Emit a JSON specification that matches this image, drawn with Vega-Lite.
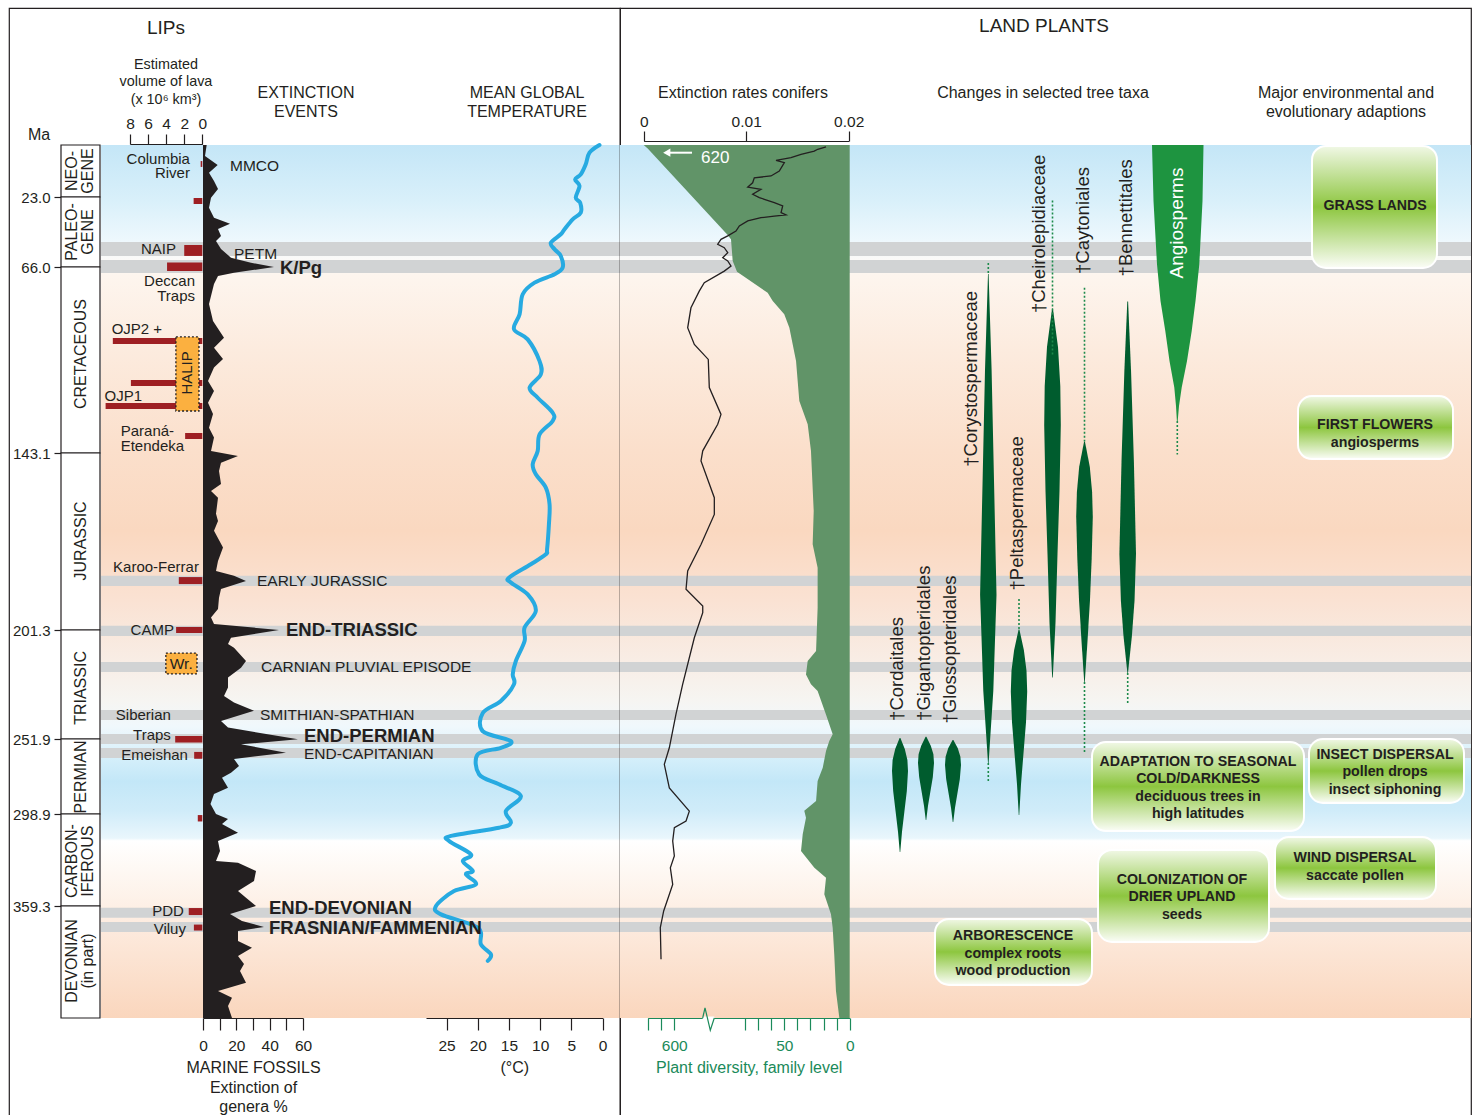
{
"$schema":"https://vega.github.io/schema/vega-lite/v6.json",
"padding":{"left":8,"top":7,"right":0,"bottom":0},
"background":"#ffffff",
"spacing":0,
"bounds":"flush",
"config":{
 "font":"Liberation Sans",
 "view":{"stroke":"#231f20","strokeWidth":1.2},
 "axis":{"domainColor":"#231f20","tickColor":"#231f20","labelColor":"#231f20","titleColor":"#231f20","labelFontSize":15.5,"labelFont":"Liberation Sans","titleFont":"Liberation Sans","titleFontWeight":"normal","grid":false,"domainWidth":1.2,"tickWidth":1.2,"labelFlush":false,"labelOverlap":false},
 "text":{"color":"#231f20"}
},
"datasets":{
 "span":[{"Ma":0,"Ma2":425}],
 "bands":[{"event":"PETM","Ma":50.6,"Ma2":59.2},{"event":"K/Pg","Ma":61.7,"Ma2":68.5},{"event":"Early Jurassic","Ma":183.5,"Ma2":186.8},{"event":"End-Triassic","Ma":199.9,"Ma2":204.1},{"event":"Carnian","Ma":216.2,"Ma2":220.8},{"event":"Smithian-Spathian","Ma":238.4,"Ma2":243.1},{"event":"End-Permian","Ma":249.6,"Ma2":255.0},{"event":"End-Capitanian","Ma":257.5,"Ma2":263.8},{"event":"End-Devonian","Ma":360.3,"Ma2":366.2},{"event":"Frasnian/Famennian","Ma":368.7,"Ma2":374.6}],
 "periods":[{"name":"NEO-\nGENE","lines":2,"Ma":0,"Ma2":23,"mid":11.5},{"name":"PALEO-\nGENE","lines":2,"Ma":23,"Ma2":66,"mid":44.5},{"name":"CRETACEOUS","lines":1,"Ma":66,"Ma2":143.1,"mid":102.1},{"name":"JURASSIC","lines":1,"Ma":143.1,"Ma2":201.3,"mid":172.0},{"name":"TRIASSIC","lines":1,"Ma":201.3,"Ma2":251.9,"mid":228.2},{"name":"PERMIAN","lines":1,"Ma":251.9,"Ma2":298.9,"mid":275.7},{"name":"CARBON-\nIFEROUS","lines":2,"Ma":298.9,"Ma2":359.3,"mid":329.8},{"name":"DEVONIAN\n(in part)","lines":2,"Ma":359.3,"Ma2":425,"mid":391.6}],
 "lips":[{"lip":"Columbia River","vol":0.18,"Ma":7.1,"Ma2":9.7},{"lip":"unlabelled Paleogene","vol":0.96,"Ma":23.6,"Ma2":27.3},{"lip":"NAIP","vol":2.0,"Ma":52.5,"Ma2":59.2},{"lip":"Deccan Traps","vol":3.9,"Ma":63.3,"Ma2":67.7},{"lip":"OJP2 +","vol":9.9,"Ma":95.4,"Ma2":97.9},{"lip":"HALIP","vol":7.9,"Ma":112.8,"Ma2":115.3},{"lip":"OJP1","vol":10.7,"Ma":122.4,"Ma2":124.9},{"lip":"Paraná-Etendeka","vol":1.9,"Ma":134.8,"Ma2":137.3},{"lip":"Karoo-Ferrar","vol":2.6,"Ma":183.9,"Ma2":186.2},{"lip":"CAMP","vol":2.9,"Ma":200.3,"Ma2":202.7},{"lip":"Siberian Traps","vol":3.0,"Ma":250.5,"Ma2":254.1},{"lip":"Emeishan","vol":0.9,"Ma":260.0,"Ma2":264.3},{"lip":"unlabelled Carboniferous","vol":0.5,"Ma":299.6,"Ma2":303.8},{"lip":"PDD","vol":1.5,"Ma":360.5,"Ma2":364.6},{"lip":"Viluy","vol":0.93,"Ma":370.2,"Ma2":373.7}],
 "lipboxes":[{"name":"HALIP","vol":2.92,"vol2":0.37,"Ma":95.0,"Ma2":125.7,"tvol":1.65,"tMa":109.9},{"name":"Wr.","vol":4.03,"vol2":0.59,"Ma":212.0,"Ma2":221.7,"tvol":2.33,"tMa":217.1}],
 "liplabels_r":[{"label":"Columbia","vol":1.37,"Ma":6.0},{"label":"River","vol":1.37,"Ma":12.6},{"label":"NAIP","vol":2.92,"Ma":55.0},{"label":"Deccan","vol":0.81,"Ma":71.8},{"label":"Traps","vol":0.81,"Ma":78.0},{"label":"Karoo-Ferrar","vol":0.37,"Ma":180.6},{"label":"CAMP","vol":3.14,"Ma":201.3},{"label":"Siberian","vol":3.48,"Ma":240.8},{"label":"Traps","vol":3.48,"Ma":250.0},{"label":"Emeishan","vol":1.59,"Ma":261.9},{"label":"PDD","vol":2.03,"Ma":362.2},{"label":"Viluy","vol":1.81,"Ma":372.8}],
 "liplabels_l":[{"label":"OJP2 +","vol":10.03,"Ma":91.7},{"label":"OJP1","vol":10.81,"Ma":119.5},{"label":"Paraná-","vol":9.03,"Ma":133.8},{"label":"Etendeka","vol":9.03,"Ma":140.0}],
 "events":[{"label":"MMCO","pct":16.2,"Ma":9.3},{"label":"PETM","pct":18.6,"Ma":58.0},{"label":"EARLY JURASSIC","pct":32.4,"Ma":185.2},{"label":"CARNIAN PLUVIAL EPISODE","pct":34.8,"Ma":218.5},{"label":"SMITHIAN-SPATHIAN","pct":34.2,"Ma":240.8},{"label":"END-CAPITANIAN","pct":60.6,"Ma":261.3}],
 "bigevents":[{"label":"K/Pg","pct":46.2,"Ma":66.4},{"label":"END-TRIASSIC","pct":49.8,"Ma":201.3},{"label":"END-PERMIAN","pct":60.6,"Ma":250.5},{"label":"END-DEVONIAN","pct":39.6,"Ma":360.5},{"label":"FRASNIAN/FAMMENIAN","pct":39.6,"Ma":372.0}],
 "fossils":[{"Ma":0,"pct":2.2},{"Ma":4.9,"pct":1.2},{"Ma":8.8,"pct":8.8},{"Ma":12.3,"pct":3.6},{"Ma":15.9,"pct":6.6},{"Ma":19.5,"pct":9.0},{"Ma":23.4,"pct":4.8},{"Ma":29.6,"pct":3.6},{"Ma":35.7,"pct":6.6},{"Ma":39.4,"pct":16.2},{"Ma":42.7,"pct":9.0},{"Ma":47.0,"pct":10.8},{"Ma":50.0,"pct":7.8},{"Ma":54.9,"pct":10.8},{"Ma":60.3,"pct":16.8},{"Ma":63.4,"pct":28.8},{"Ma":66.0,"pct":42.6},{"Ma":68.4,"pct":18.6},{"Ma":69.7,"pct":9.0},{"Ma":73.0,"pct":6.6},{"Ma":81.3,"pct":3.6},{"Ma":88.4,"pct":6.0},{"Ma":95.3,"pct":12.6},{"Ma":99.5,"pct":6.6},{"Ma":104.1,"pct":12.0},{"Ma":107.7,"pct":6.6},{"Ma":113.3,"pct":3.0},{"Ma":117.4,"pct":6.6},{"Ma":122.3,"pct":3.0},{"Ma":126.9,"pct":6.0},{"Ma":132.6,"pct":3.6},{"Ma":136.7,"pct":6.6},{"Ma":142.3,"pct":4.8},{"Ma":144.1,"pct":21.0},{"Ma":146.3,"pct":10.8},{"Ma":149.0,"pct":9.6},{"Ma":153.3,"pct":10.8},{"Ma":155.6,"pct":4.8},{"Ma":157.8,"pct":9.0},{"Ma":163.1,"pct":7.8},{"Ma":165.5,"pct":9.0},{"Ma":168.7,"pct":6.6},{"Ma":174.2,"pct":12.0},{"Ma":178.6,"pct":9.0},{"Ma":181.9,"pct":7.8},{"Ma":183.5,"pct":18.6},{"Ma":185.2,"pct":25.8},{"Ma":187.8,"pct":10.8},{"Ma":190.7,"pct":9.6},{"Ma":194.4,"pct":9.0},{"Ma":197.2,"pct":4.8},{"Ma":199.3,"pct":6.6},{"Ma":201.3,"pct":45.6},{"Ma":204.9,"pct":16.8},{"Ma":207.8,"pct":15.0},{"Ma":209.5,"pct":18.6},{"Ma":215.7,"pct":25.8},{"Ma":218.8,"pct":22.8},{"Ma":223.4,"pct":15.0},{"Ma":228.0,"pct":15.0},{"Ma":231.9,"pct":12.6},{"Ma":235.0,"pct":18.6},{"Ma":238.8,"pct":30.6},{"Ma":243.5,"pct":10.8},{"Ma":246.6,"pct":15.0},{"Ma":252.1,"pct":57.0},{"Ma":255.2,"pct":22.8},{"Ma":260.5,"pct":49.8},{"Ma":264.4,"pct":18.6},{"Ma":268.8,"pct":21.6},{"Ma":273.0,"pct":16.8},{"Ma":276.2,"pct":11.4},{"Ma":282.4,"pct":15.0},{"Ma":286.4,"pct":6.6},{"Ma":292.6,"pct":4.5},{"Ma":298.9,"pct":7.8},{"Ma":302.2,"pct":15.0},{"Ma":305.5,"pct":11.4},{"Ma":311.2,"pct":21.0},{"Ma":316.6,"pct":9.0},{"Ma":323.2,"pct":10.2},{"Ma":329.8,"pct":7.8},{"Ma":330.9,"pct":21.0},{"Ma":336.3,"pct":31.8},{"Ma":342.9,"pct":30.6},{"Ma":349.5,"pct":21.0},{"Ma":353.9,"pct":25.8},{"Ma":359.3,"pct":31.8},{"Ma":364.0,"pct":16.2},{"Ma":368.1,"pct":23.4},{"Ma":371.6,"pct":36.6},{"Ma":374.0,"pct":21.0},{"Ma":379.8,"pct":21.0},{"Ma":383.8,"pct":29.4},{"Ma":388.6,"pct":21.0},{"Ma":393.3,"pct":24.6},{"Ma":397.4,"pct":22.2},{"Ma":404.3,"pct":25.8},{"Ma":409.2,"pct":9.0},{"Ma":413.1,"pct":17.4},{"Ma":418.0,"pct":15.0},{"Ma":425,"pct":17.4}],
 "temperature":[{"Ma":0,"T":0.5},{"Ma":3.4,"T":2.1},{"Ma":8.5,"T":2.7},{"Ma":13.0,"T":3.5},{"Ma":15.2,"T":4.4},{"Ma":18.1,"T":3.7},{"Ma":23.4,"T":4.3},{"Ma":26.5,"T":3.6},{"Ma":32.6,"T":3.5},{"Ma":36.7,"T":4.8},{"Ma":42.8,"T":6.1},{"Ma":45.9,"T":6.7},{"Ma":51.1,"T":8.3},{"Ma":55.1,"T":7.7},{"Ma":59.2,"T":6.7},{"Ma":66.3,"T":6.4},{"Ma":69.0,"T":7.7},{"Ma":72.5,"T":10.9},{"Ma":77.3,"T":12.8},{"Ma":85.6,"T":13.3},{"Ma":91.8,"T":14.2},{"Ma":96.0,"T":12.0},{"Ma":105.0,"T":10.1},{"Ma":110.5,"T":9.9},{"Ma":116.0,"T":11.7},{"Ma":120.2,"T":10.4},{"Ma":126.4,"T":8.0},{"Ma":129.8,"T":8.0},{"Ma":135.4,"T":10.1},{"Ma":142.3,"T":10.4},{"Ma":146.8,"T":11.2},{"Ma":150.1,"T":10.7},{"Ma":154.5,"T":9.1},{"Ma":160.0,"T":8.5},{"Ma":166.5,"T":8.6},{"Ma":174.8,"T":8.9},{"Ma":176.4,"T":9.1},{"Ma":179.7,"T":11.5},{"Ma":184.1,"T":15.0},{"Ma":185.7,"T":14.7},{"Ma":189.6,"T":12.0},{"Ma":195.0,"T":10.7},{"Ma":200.5,"T":12.5},{"Ma":206.4,"T":12.5},{"Ma":215.7,"T":13.9},{"Ma":221.9,"T":14.4},{"Ma":226.5,"T":14.2},{"Ma":234.3,"T":16.3},{"Ma":239.8,"T":19.2},{"Ma":248.3,"T":19.2},{"Ma":253.2,"T":14.7},{"Ma":257.4,"T":16.3},{"Ma":261.5,"T":20.0},{"Ma":274.0,"T":19.8},{"Ma":280.3,"T":16.6},{"Ma":287.6,"T":13.1},{"Ma":297.0,"T":15.5},{"Ma":304.6,"T":14.7},{"Ma":307.9,"T":16.6},{"Ma":313.3,"T":24.3},{"Ma":316.6,"T":24.6},{"Ma":325.4,"T":21.1},{"Ma":329.8,"T":22.4},{"Ma":336.3,"T":20.8},{"Ma":338.5,"T":21.9},{"Ma":345.1,"T":20.3},{"Ma":349.5,"T":23.8},{"Ma":359.3,"T":26.7},{"Ma":364.2,"T":25.9},{"Ma":372.0,"T":20.0},{"Ma":381.8,"T":19.5},{"Ma":387.6,"T":17.9},{"Ma":391.5,"T":18.4}],
 "diversity":[{"Ma":0,"div":646},{"Ma":1.6,"div":640},{"Ma":14.3,"div":600},{"Ma":45.9,"div":212.4},{"Ma":48.9,"div":183},{"Ma":62.3,"div":170.5},{"Ma":68.0,"div":138.8},{"Ma":76.7,"div":62.7},{"Ma":80.1,"div":58.8},{"Ma":85.6,"div":50.0},{"Ma":91.2,"div":46.1},{"Ma":105.0,"div":41.0},{"Ma":121.5,"div":38.5},{"Ma":131.2,"div":32.1},{"Ma":142.2,"div":29.6},{"Ma":162.2,"div":27.5},{"Ma":173.1,"div":28.3},{"Ma":180.8,"div":24.5},{"Ma":194.0,"div":24.5},{"Ma":211.0,"div":25.7},{"Ma":215.7,"div":32.1},{"Ma":221.9,"div":33.4},{"Ma":226.5,"div":29.6},{"Ma":229.6,"div":24.5},{"Ma":240.4,"div":18.2},{"Ma":249.7,"div":13.0},{"Ma":253.2,"div":15.6},{"Ma":259.4,"div":18.1},{"Ma":269.9,"div":20.6},{"Ma":278.2,"div":24.5},{"Ma":290.7,"div":25.7},{"Ma":296.9,"div":34.7},{"Ma":301.3,"div":33.4},{"Ma":312.2,"div":35.9},{"Ma":323.2,"div":37.2},{"Ma":334.2,"div":27.0},{"Ma":340.7,"div":18.1},{"Ma":351.6,"div":19.4},{"Ma":364.2,"div":14.3},{"Ma":372.0,"div":13.0},{"Ma":387.7,"div":11.8},{"Ma":409.2,"div":10.5},{"Ma":425,"div":7.9}],
 "conifers":[{"Ma":0.8,"rate":0.01779},{"Ma":1.9,"rate":0.01698},{"Ma":2.7,"rate":0.01664},{"Ma":4.1,"rate":0.01535},{"Ma":5.6,"rate":0.01437},{"Ma":6.8,"rate":0.01291},{"Ma":7.8,"rate":0.01372},{"Ma":11.5,"rate":0.01323},{"Ma":13.7,"rate":0.01242},{"Ma":14.5,"rate":0.01079},{"Ma":16.7,"rate":0.01063},{"Ma":18.6,"rate":0.01015},{"Ma":19.6,"rate":0.01144},{"Ma":21.8,"rate":0.01063},{"Ma":23.4,"rate":0.01128},{"Ma":24.4,"rate":0.01177},{"Ma":26.5,"rate":0.01274},{"Ma":28.5,"rate":0.01356},{"Ma":32.6,"rate":0.0134},{"Ma":34.0,"rate":0.01388},{"Ma":34.7,"rate":0.01274},{"Ma":35.7,"rate":0.01144},{"Ma":37.7,"rate":0.01015},{"Ma":40.8,"rate":0.00933},{"Ma":43.9,"rate":0.009},{"Ma":46.9,"rate":0.0082},{"Ma":49.0,"rate":0.00754},{"Ma":52.0,"rate":0.00722},{"Ma":54.1,"rate":0.00786},{"Ma":57.2,"rate":0.0082},{"Ma":60.3,"rate":0.00771},{"Ma":62.3,"rate":0.0082},{"Ma":65.4,"rate":0.00852},{"Ma":67.7,"rate":0.00786},{"Ma":72.5,"rate":0.00591},{"Ma":76.0,"rate":0.00542},{"Ma":82.9,"rate":0.00461},{"Ma":91.2,"rate":0.00429},{"Ma":98.1,"rate":0.00494},{"Ma":104.3,"rate":0.0063},{"Ma":116.0,"rate":0.0064},{"Ma":127.1,"rate":0.00754},{"Ma":131.2,"rate":0.00722},{"Ma":142.2,"rate":0.00576},{"Ma":145.7,"rate":0.00559},{"Ma":157.8,"rate":0.00689},{"Ma":163.3,"rate":0.00689},{"Ma":173.2,"rate":0.00559},{"Ma":181.9,"rate":0.00429},{"Ma":187.9,"rate":0.00413},{"Ma":193.4,"rate":0.00576},{"Ma":195.6,"rate":0.00576},{"Ma":204.9,"rate":0.00494},{"Ma":226.5,"rate":0.0038},{"Ma":240.4,"rate":0.00315},{"Ma":257.4,"rate":0.0025},{"Ma":267.8,"rate":0.00201},{"Ma":282.5,"rate":0.0025},{"Ma":297.1,"rate":0.00445},{"Ma":303.5,"rate":0.00413},{"Ma":307.9,"rate":0.00299},{"Ma":316.6,"rate":0.00283},{"Ma":326.5,"rate":0.00299},{"Ma":334.2,"rate":0.0026},{"Ma":345.1,"rate":0.00283},{"Ma":362.2,"rate":0.00195},{"Ma":372.0,"rate":0.00162},{"Ma":390.6,"rate":0.00169}],
 "taxa":[
  {"taxon":"Cordaitales","Ma":251.4,"left":2.86,"right":2.94},{"taxon":"Cordaitales","Ma":258.2,"left":2.42,"right":3.38},{"taxon":"Cordaitales","Ma":265.1,"left":2.16,"right":3.64},{"taxon":"Cordaitales","Ma":271.9,"left":2.1,"right":3.7},{"taxon":"Cordaitales","Ma":284.7,"left":2.22,"right":3.58},{"taxon":"Cordaitales","Ma":297.3,"left":2.46,"right":3.34},{"taxon":"Cordaitales","Ma":310.6,"left":2.7,"right":3.1},{"taxon":"Cordaitales","Ma":323.8,"left":2.875,"right":2.925},
  {"taxon":"Gigantopteridales","Ma":250.9,"left":5.46,"right":5.54},{"taxon":"Gigantopteridales","Ma":256.1,"left":5.02,"right":5.98},{"taxon":"Gigantopteridales","Ma":261.5,"left":4.76,"right":6.24},{"taxon":"Gigantopteridales","Ma":266.9,"left":4.7,"right":6.3},{"taxon":"Gigantopteridales","Ma":275.9,"left":4.82,"right":6.18},{"taxon":"Gigantopteridales","Ma":284.8,"left":5.06,"right":5.94},{"taxon":"Gigantopteridales","Ma":293.8,"left":5.3,"right":5.7},{"taxon":"Gigantopteridales","Ma":302.8,"left":5.475,"right":5.525},
  {"taxon":"Glossopteridales","Ma":252.5,"left":8.16,"right":8.24},{"taxon":"Glossopteridales","Ma":257.7,"left":7.72,"right":8.68},{"taxon":"Glossopteridales","Ma":263.0,"left":7.46,"right":8.94},{"taxon":"Glossopteridales","Ma":268.2,"left":7.4,"right":9.0},{"taxon":"Glossopteridales","Ma":277.1,"left":7.52,"right":8.88},{"taxon":"Glossopteridales","Ma":286.1,"left":7.76,"right":8.64},{"taxon":"Glossopteridales","Ma":295.0,"left":8.0,"right":8.4},{"taxon":"Glossopteridales","Ma":304.2,"left":8.175,"right":8.225},
  {"taxon":"Corystospermaceae","Ma":68.9,"left":11.7,"right":11.76},{"taxon":"Corystospermaceae","Ma":108.7,"left":11.4,"right":12.06},{"taxon":"Corystospermaceae","Ma":153.6,"left":11.15,"right":12.31},{"taxon":"Corystospermaceae","Ma":189.7,"left":10.91,"right":12.55},{"taxon":"Corystospermaceae","Ma":229.6,"left":11.23,"right":12.23},{"taxon":"Corystospermaceae","Ma":250.9,"left":11.53,"right":11.93},{"taxon":"Corystospermaceae","Ma":266.9,"left":11.7,"right":11.76},
  {"taxon":"Peltaspermaceae","Ma":201.1,"left":14.76,"right":14.84},{"taxon":"Peltaspermaceae","Ma":210.7,"left":14.31,"right":15.29},{"taxon":"Peltaspermaceae","Ma":220.2,"left":14.05,"right":15.55},{"taxon":"Peltaspermaceae","Ma":229.8,"left":13.98,"right":15.62},{"taxon":"Peltaspermaceae","Ma":244.1,"left":14.1,"right":15.5},{"taxon":"Peltaspermaceae","Ma":260.9,"left":14.35,"right":15.25},{"taxon":"Peltaspermaceae","Ma":280.2,"left":14.6,"right":15.0},{"taxon":"Peltaspermaceae","Ma":299.6,"left":14.775,"right":14.825},
  {"taxon":"Cheirolepidiaceae","Ma":83.2,"left":18.11,"right":18.19},{"taxon":"Cheirolepidiaceae","Ma":99.2,"left":17.6,"right":18.7},{"taxon":"Cheirolepidiaceae","Ma":115.4,"left":17.37,"right":18.93},{"taxon":"Cheirolepidiaceae","Ma":131.5,"left":17.32,"right":18.98},{"taxon":"Cheirolepidiaceae","Ma":155.6,"left":17.45,"right":18.85},{"taxon":"Cheirolepidiaceae","Ma":176.3,"left":17.65,"right":18.65},{"taxon":"Cheirolepidiaceae","Ma":198.9,"left":17.85,"right":18.45},{"taxon":"Cheirolepidiaceae","Ma":223.4,"left":18.12,"right":18.18},
  {"taxon":"Caytoniales","Ma":138.3,"left":21.31,"right":21.39},{"taxon":"Caytoniales","Ma":147.6,"left":20.82,"right":21.88},{"taxon":"Caytoniales","Ma":155.9,"left":20.59,"right":22.11},{"taxon":"Caytoniales","Ma":164.1,"left":20.52,"right":22.18},{"taxon":"Caytoniales","Ma":177.6,"left":20.63,"right":22.07},{"taxon":"Caytoniales","Ma":191.3,"left":20.8,"right":21.9},{"taxon":"Caytoniales","Ma":206.4,"left":21.05,"right":21.65},{"taxon":"Caytoniales","Ma":225.4,"left":21.32,"right":21.38},
  {"taxon":"Bennettitales","Ma":80.3,"left":25.63,"right":25.71},{"taxon":"Bennettitales","Ma":108.7,"left":25.34,"right":26.0},{"taxon":"Bennettitales","Ma":146.1,"left":25.05,"right":26.29},{"taxon":"Bennettitales","Ma":176.3,"left":24.84,"right":26.5},{"taxon":"Bennettitales","Ma":191.8,"left":24.99,"right":26.35},{"taxon":"Bennettitales","Ma":204.1,"left":25.25,"right":26.09},{"taxon":"Bennettitales","Ma":221.3,"left":25.64,"right":25.7}],
 "angio":[{"taxon":"Angiosperms","Ma":0,"left":28.1,"right":33.25},{"taxon":"Angiosperms","Ma":25.5,"left":28.25,"right":33.15},{"taxon":"Angiosperms","Ma":64.3,"left":28.6,"right":32.83},{"taxon":"Angiosperms","Ma":80.1,"left":28.95,"right":32.45},{"taxon":"Angiosperms","Ma":92.5,"left":29.43,"right":32.07},{"taxon":"Angiosperms","Ma":105.0,"left":29.85,"right":31.6},{"taxon":"Angiosperms","Ma":116.0,"left":30.33,"right":31.07},{"taxon":"Angiosperms","Ma":123.6,"left":30.5,"right":30.8},{"taxon":"Angiosperms","Ma":129.8,"left":30.59,"right":30.67}],
 "ranges":[{"taxon":"Corystospermaceae","u":11.73,"Ma":63.5,"Ma2":68.9},{"taxon":"Corystospermaceae","u":11.73,"Ma":266.9,"Ma2":278.2},{"taxon":"Peltaspermaceae","u":14.8,"Ma":191.1,"Ma2":201.1},{"taxon":"Cheirolepidiaceae","u":18.15,"Ma":25.2,"Ma2":103},{"taxon":"Caytoniales","u":21.35,"Ma":74.6,"Ma2":138.3},{"taxon":"Caytoniales","u":21.35,"Ma":225.4,"Ma2":260.7},{"taxon":"Bennettitales","u":25.67,"Ma":221.3,"Ma2":235.2},{"taxon":"Angiosperms","u":30.63,"Ma":129.8,"Ma2":143.6}],
 "taxlabels":[{"t":"†Cordaitales","u":2.6,"Ma":243.5},{"t":"†Gigantopteridales","u":5.25,"Ma":243.5},{"t":"†Glossopteridales","u":7.9,"Ma":244.7},{"t":"†Corystospermaceae","u":10.0,"Ma":147.6},{"t":"†Peltaspermaceae","u":14.55,"Ma":188.3},{"t":"†Cheirolepidiaceae","u":16.75,"Ma":85.1},{"t":"†Caytoniales","u":21.17,"Ma":68.9},{"t":"†Bennettitales","u":25.5,"Ma":69.9}],
 "adaptations":[{"text":"GRASS LANDS","u":44.1,"u2":56.6,"Ma":0.4,"Ma2":66.4,"tu":50.4,"tMa":28.5},{"text":"FIRST FLOWERS\nangiosperms","u":42.7,"u2":58.2,"Ma":119.5,"Ma2":145.1,"tu":50.4,"tMa":131.6},{"text":"ADAPTATION TO SEASONAL\nCOLD/DARKNESS\ndeciduous trees in\nhigh latitudes","u":22.1,"u2":43.3,"Ma":253.8,"Ma2":310.1,"tu":32.7,"tMa":266.3},{"text":"INSECT DISPERSAL\npollen drops\ninsect siphoning","u":43.8,"u2":59.3,"Ma":251.9,"Ma2":292.0,"tu":51.4,"tMa":261.9},{"text":"WIND DISPERSAL\nsaccate pollen","u":40.4,"u2":56.5,"Ma":314.0,"Ma2":354.7,"tu":48.4,"tMa":327.8},{"text":"COLONIZATION OF\nDRIER UPLAND\nseeds","u":22.7,"u2":39.8,"Ma":322.5,"Ma2":380.4,"tu":31.1,"tMa":342.2},{"text":"ARBORESCENCE\ncomplex roots\nwood production","u":6.4,"u2":22.1,"Ma":366.9,"Ma2":405.6,"tu":14.2,"tMa":376.9}]
},
"hconcat":[
{
 "width":611,"height":1112,
 "resolve":{"scale":{"x":"independent"},"axis":{"x":"independent","y":"independent"}},
 "layer":[
  {"data":{"name":"span"},"mark":{"type":"rect","fill":{"gradient":"linear","x1":0,"y1":0,"x2":0,"y2":1,"stops":[{"offset":0,"color":"#c4e6f7"},{"offset":0.064,"color":"#d9f0fa"},{"offset":0.11,"color":"#eef8fd"},{"offset":0.131,"color":"#fbfaf8"},{"offset":0.15,"color":"#fdf5ee"},{"offset":0.236,"color":"#fcebde"},{"offset":0.351,"color":"#fbdfcb"},{"offset":0.442,"color":"#fad8c0"},{"offset":0.522,"color":"#fae2d3"},{"offset":0.591,"color":"#f8ede5"},{"offset":0.637,"color":"#f6f5f2"},{"offset":0.666,"color":"#f0f8fc"},{"offset":0.706,"color":"#d2eefa"},{"offset":0.729,"color":"#c3e7f8"},{"offset":0.763,"color":"#d0ecf9"},{"offset":0.794,"color":"#e9f6fc"},{"offset":0.797,"color":"#ffffff"},{"offset":0.832,"color":"#fef8f3"},{"offset":0.889,"color":"#fdece0"},{"offset":1,"color":"#fad6bd"}]}},
   "encoding":{"x":{"datum":0,"type":"quantitative","scale":{"domain":[0,1],"range":[92,611]},"axis":null},"x2":{"datum":1},"y":{"field":"Ma","type":"quantitative","scale":{"domain":[0,23,66,143.1,201.3,251.9,298.9,359.3,425],"range":[137,189,259,445,622,731,806,898,1010],"zero":false,"nice":false},"axis":null},"y2":{"field":"Ma2"}}},
  {"data":{"name":"bands"},"mark":{"type":"rect","fill":"#d1d3d4"},
   "encoding":{"x":{"datum":0,"type":"quantitative","scale":{"domain":[0,1],"range":[92,611]},"axis":null},"x2":{"datum":1},"y":{"field":"Ma","type":"quantitative","scale":{"domain":[0,23,66,143.1,201.3,251.9,298.9,359.3,425],"range":[137,189,259,445,622,731,806,898,1010],"zero":false,"nice":false},"axis":null},"y2":{"field":"Ma2"}}},
  {"data":{"name":"periods"},"mark":{"type":"rect","fill":"#ffffff","stroke":"#231f20","strokeWidth":1.2},
   "encoding":{"x":{"datum":0,"type":"quantitative","scale":{"domain":[0,1],"range":[52,91]},"axis":null},"x2":{"datum":1},"y":{"field":"Ma","type":"quantitative","scale":{"domain":[0,23,66,143.1,201.3,251.9,298.9,359.3,425],"range":[137,189,259,445,622,731,806,898,1010],"zero":false,"nice":false},"axis":{"orient":"left","offset":-52,"values":[23,66,143.1,201.3,251.9,298.9,359.3],"format":".1f","domain":false,"tickSize":7,"labelPadding":4,"labelFontSize":15,"title":null}},"y2":{"field":"Ma2"}}},
  {"data":{"name":"periods"},"transform":[{"filter":"datum.lines == 1"}],"mark":{"type":"text","angle":270,"fontSize":16,"align":"center","baseline":"middle"},
   "encoding":{"x":{"datum":0.5,"type":"quantitative","scale":{"domain":[0,1],"range":[52,91]},"axis":null},"y":{"field":"mid","type":"quantitative","scale":{"domain":[0,23,66,143.1,201.3,251.9,298.9,359.3,425],"range":[137,189,259,445,622,731,806,898,1010],"zero":false,"nice":false},"axis":null},"text":{"field":"name"}}},
  {"data":{"name":"periods"},"transform":[{"filter":"datum.lines == 2"}],"mark":{"type":"text","angle":270,"fontSize":16,"lineBreak":"\n","lineHeight":16,"align":"center","baseline":"middle"},
   "encoding":{"x":{"datum":0.285,"type":"quantitative","scale":{"domain":[0,1],"range":[52,91]},"axis":null},"y":{"field":"mid","type":"quantitative","scale":{"domain":[0,23,66,143.1,201.3,251.9,298.9,359.3,425],"range":[137,189,259,445,622,731,806,898,1010],"zero":false,"nice":false},"axis":null},"text":{"field":"name"}}},
  {"data":{"values":[{"t":"Ma","Ma":-4.4}]},"mark":{"type":"text","fontSize":16,"align":"center","baseline":"middle"},
   "encoding":{"x":{"datum":-0.564,"type":"quantitative","scale":{"domain":[0,1],"range":[52,91]},"axis":null},"y":{"field":"Ma","type":"quantitative","scale":{"domain":[0,23,66,143.1,201.3,251.9,298.9,359.3,425],"range":[137,189,259,445,622,731,806,898,1010],"zero":false,"nice":false},"axis":null},"text":{"field":"t"}}},
  {"data":{"name":"lips"},"mark":{"type":"rect","fill":"#9e1f23"},
   "encoding":{"x":{"field":"vol","type":"quantitative","scale":{"domain":[0,8],"range":[193.3,121],"zero":false,"nice":false},"axis":{"orient":"top","offset":-136,"values":[0,2,4,6,8],"format":"d","tickSize":10,"labelPadding":3,"title":null}},"x2":{"datum":0},"y":{"field":"Ma","type":"quantitative","scale":{"domain":[0,23,66,143.1,201.3,251.9,298.9,359.3,425],"range":[137,189,259,445,622,731,806,898,1010],"zero":false,"nice":false},"axis":null},"y2":{"field":"Ma2"}}},
  {"data":{"name":"lipboxes"},"mark":{"type":"rect","fill":"#fbb040","stroke":"#231f20","strokeWidth":1.3,"strokeDash":[2,2]},
   "encoding":{"x":{"field":"vol","type":"quantitative","scale":{"domain":[0,8],"range":[193.3,121],"zero":false,"nice":false},"axis":null},"x2":{"field":"vol2"},"y":{"field":"Ma","type":"quantitative","scale":{"domain":[0,23,66,143.1,201.3,251.9,298.9,359.3,425],"range":[137,189,259,445,622,731,806,898,1010],"zero":false,"nice":false},"axis":null},"y2":{"field":"Ma2"}}},
  {"data":{"name":"lipboxes"},"transform":[{"filter":"datum.name == 'HALIP'"}],"mark":{"type":"text","angle":270,"fontSize":15,"align":"center","baseline":"middle"},
   "encoding":{"x":{"field":"tvol","type":"quantitative","scale":{"domain":[0,8],"range":[193.3,121],"zero":false,"nice":false},"axis":null},"y":{"field":"tMa","type":"quantitative","scale":{"domain":[0,23,66,143.1,201.3,251.9,298.9,359.3,425],"range":[137,189,259,445,622,731,806,898,1010],"zero":false,"nice":false},"axis":null},"text":{"field":"name"}}},
  {"data":{"name":"lipboxes"},"transform":[{"filter":"datum.name == 'Wr.'"}],"mark":{"type":"text","fontSize":15.5,"align":"center","baseline":"middle"},
   "encoding":{"x":{"field":"tvol","type":"quantitative","scale":{"domain":[0,8],"range":[193.3,121],"zero":false,"nice":false},"axis":null},"y":{"field":"tMa","type":"quantitative","scale":{"domain":[0,23,66,143.1,201.3,251.9,298.9,359.3,425],"range":[137,189,259,445,622,731,806,898,1010],"zero":false,"nice":false},"axis":null},"text":{"field":"name"}}},
  {"data":{"name":"fossils"},"mark":{"type":"area","orient":"horizontal","color":"#231f20"},
   "encoding":{"x":{"field":"pct","type":"quantitative","stack":null,"scale":{"domain":[0,60],"range":[194,294],"nice":false},"axis":{"orient":"bottom","offset":-102,"values":[0,10,20,30,40,50,60],"labelExpr":"datum.value % 20 == 0 ? datum.label : ''","tickSize":12,"labelPadding":8,"title":["MARINE FOSSILS","Extinction of","genera %"],"titleFontSize":16,"titleLineHeight":19.5,"titlePadding":6}},"x2":{"datum":0},"y":{"field":"Ma","type":"quantitative","scale":{"domain":[0,23,66,143.1,201.3,251.9,298.9,359.3,425],"range":[137,189,259,445,622,731,806,898,1010],"zero":false,"nice":false},"axis":null}}},
  {"data":{"name":"temperature"},"mark":{"type":"line","stroke":"#27aae1","strokeWidth":4,"interpolate":"cardinal","strokeCap":"round","strokeJoin":"round"},
   "encoding":{"x":{"field":"T","type":"quantitative","scale":{"domain":[0,28.3],"range":[593.6,417],"nice":false},"axis":{"orient":"bottom","offset":-102,"values":[0,5,10,15,20,25],"tickSize":12,"labelPadding":8,"title":"(°C)","titleFontSize":16,"titlePadding":6}},"y":{"field":"Ma","type":"quantitative","scale":{"domain":[0,23,66,143.1,201.3,251.9,298.9,359.3,425],"range":[137,189,259,445,622,731,806,898,1010],"zero":false,"nice":false},"axis":null},"order":{"field":"Ma","type":"quantitative"}}},
  {"data":{"name":"liplabels_r"},"mark":{"type":"text","align":"right","baseline":"middle","fontSize":15},
   "encoding":{"x":{"field":"vol","type":"quantitative","scale":{"domain":[0,8],"range":[193.3,121],"zero":false,"nice":false},"axis":null},"y":{"field":"Ma","type":"quantitative","scale":{"domain":[0,23,66,143.1,201.3,251.9,298.9,359.3,425],"range":[137,189,259,445,622,731,806,898,1010],"zero":false,"nice":false},"axis":null},"text":{"field":"label"}}},
  {"data":{"name":"liplabels_l"},"mark":{"type":"text","align":"left","baseline":"middle","fontSize":15},
   "encoding":{"x":{"field":"vol","type":"quantitative","scale":{"domain":[0,8],"range":[193.3,121],"zero":false,"nice":false},"axis":null},"y":{"field":"Ma","type":"quantitative","scale":{"domain":[0,23,66,143.1,201.3,251.9,298.9,359.3,425],"range":[137,189,259,445,622,731,806,898,1010],"zero":false,"nice":false},"axis":null},"text":{"field":"label"}}},
  {"data":{"name":"events"},"mark":{"type":"text","align":"left","baseline":"middle","fontSize":15.5},
   "encoding":{"x":{"field":"pct","type":"quantitative","scale":{"domain":[0,60],"range":[194,294],"nice":false},"axis":null},"y":{"field":"Ma","type":"quantitative","scale":{"domain":[0,23,66,143.1,201.3,251.9,298.9,359.3,425],"range":[137,189,259,445,622,731,806,898,1010],"zero":false,"nice":false},"axis":null},"text":{"field":"label"}}},
  {"data":{"name":"bigevents"},"mark":{"type":"text","align":"left","baseline":"middle","fontSize":18.5,"fontWeight":"bold"},
   "encoding":{"x":{"field":"pct","type":"quantitative","scale":{"domain":[0,60],"range":[194,294],"nice":false},"axis":null},"y":{"field":"Ma","type":"quantitative","scale":{"domain":[0,23,66,143.1,201.3,251.9,298.9,359.3,425],"range":[137,189,259,445,622,731,806,898,1010],"zero":false,"nice":false},"axis":null},"text":{"field":"label"}}},
  {"data":{"values":[{"t":"LIPs","f":0.1252,"Ma":-51.7}]},"mark":{"type":"text","align":"center","baseline":"middle","fontSize":19},
   "encoding":{"x":{"field":"f","type":"quantitative","scale":{"domain":[0,1],"range":[92,611]},"axis":null},"y":{"field":"Ma","type":"quantitative","scale":{"domain":[0,23,66,143.1,201.3,251.9,298.9,359.3,425],"range":[137,189,259,445,622,731,806,898,1010],"zero":false,"nice":false},"axis":null},"text":{"field":"t"}}},
  {"data":{"values":[{"t":"EXTINCTION\nEVENTS","f":0.395,"Ma":-23.0},{"t":"MEAN GLOBAL\nTEMPERATURE","f":0.8208,"Ma":-23.0}]},"mark":{"type":"text","align":"center","baseline":"middle","fontSize":16,"lineBreak":"\n","lineHeight":19},
   "encoding":{"x":{"field":"f","type":"quantitative","scale":{"domain":[0,1],"range":[92,611]},"axis":null},"y":{"field":"Ma","type":"quantitative","scale":{"domain":[0,23,66,143.1,201.3,251.9,298.9,359.3,425],"range":[137,189,259,445,622,731,806,898,1010],"zero":false,"nice":false},"axis":null},"text":{"field":"t"}}},
  {"data":{"values":[{"t":"Estimated\nvolume of lava\n(x 10⁶ km³)","f":0.1252,"Ma":-35.4}]},"mark":{"type":"text","align":"center","baseline":"middle","fontSize":14.4,"lineBreak":"\n","lineHeight":17.5},
   "encoding":{"x":{"field":"f","type":"quantitative","scale":{"domain":[0,1],"range":[92,611]},"axis":null},"y":{"field":"Ma","type":"quantitative","scale":{"domain":[0,23,66,143.1,201.3,251.9,298.9,359.3,425],"range":[137,189,259,445,622,731,806,898,1010],"zero":false,"nice":false},"axis":null},"text":{"field":"t"}}}
 ]
},
{
 "width":851,"height":1112,
 "resolve":{"scale":{"x":"independent"},"axis":{"x":"independent","y":"independent"}},
 "layer":[
  {"data":{"name":"span"},"mark":{"type":"rect","fill":{"gradient":"linear","x1":0,"y1":0,"x2":0,"y2":1,"stops":[{"offset":0,"color":"#c4e6f7"},{"offset":0.064,"color":"#d9f0fa"},{"offset":0.11,"color":"#eef8fd"},{"offset":0.131,"color":"#fbfaf8"},{"offset":0.15,"color":"#fdf5ee"},{"offset":0.236,"color":"#fcebde"},{"offset":0.351,"color":"#fbdfcb"},{"offset":0.442,"color":"#fad8c0"},{"offset":0.522,"color":"#fae2d3"},{"offset":0.591,"color":"#f8ede5"},{"offset":0.637,"color":"#f6f5f2"},{"offset":0.666,"color":"#f0f8fc"},{"offset":0.706,"color":"#d2eefa"},{"offset":0.729,"color":"#c3e7f8"},{"offset":0.763,"color":"#d0ecf9"},{"offset":0.794,"color":"#e9f6fc"},{"offset":0.797,"color":"#ffffff"},{"offset":0.832,"color":"#fef8f3"},{"offset":0.889,"color":"#fdece0"},{"offset":1,"color":"#fad6bd"}]}},
   "encoding":{"x":{"datum":0,"type":"quantitative","scale":{"domain":[0,1],"range":[0,851]},"axis":null},"x2":{"datum":1},"y":{"field":"Ma","type":"quantitative","scale":{"domain":[0,23,66,143.1,201.3,251.9,298.9,359.3,425],"range":[137,189,259,445,622,731,806,898,1010],"zero":false,"nice":false},"axis":null},"y2":{"field":"Ma2"}}},
  {"data":{"name":"bands"},"mark":{"type":"rect","fill":"#d1d3d4"},
   "encoding":{"x":{"datum":0,"type":"quantitative","scale":{"domain":[0,1],"range":[0,851]},"axis":null},"x2":{"datum":1},"y":{"field":"Ma","type":"quantitative","scale":{"domain":[0,23,66,143.1,201.3,251.9,298.9,359.3,425],"range":[137,189,259,445,622,731,806,898,1010],"zero":false,"nice":false},"axis":null},"y2":{"field":"Ma2"}}},
  {"data":{"name":"diversity"},"mark":{"type":"area","orient":"horizontal","color":"#619468"},
   "encoding":{"x":{"field":"div","type":"quantitative","stack":null,"scale":{"domain":[0,80,600,640],"range":[229.7,125,54.3,27.7],"zero":false,"nice":false},"axis":{"orient":"bottom","offset":-102,"values":[0,10,20,30,40,50,60,70,80,600,620,640],"labelExpr":"datum.value == 0 || datum.value == 50 || datum.value == 600 ? datum.label : ''","tickSize":12,"labelPadding":8,"domainColor":"#1b8a5a","tickColor":"#1b8a5a","labelColor":"#1b8a5a","title":"Plant diversity, family level","titleColor":"#1b8a5a","titleFontSize":16,"titlePadding":6}},"x2":{"datum":0},"y":{"field":"Ma","type":"quantitative","scale":{"domain":[0,23,66,143.1,201.3,251.9,298.9,359.3,425],"range":[137,189,259,445,622,731,806,898,1010],"zero":false,"nice":false},"axis":null}}},
  {"data":{"values":[{"div":391.1,"div2":305.8,"Ma":425}]},"mark":{"type":"rule","stroke":"#ffffff","strokeWidth":3},
   "encoding":{"x":{"field":"div","type":"quantitative","scale":{"domain":[0,80,600,640],"range":[229.7,125,54.3,27.7],"zero":false,"nice":false},"axis":null},"x2":{"field":"div2"},"y":{"field":"Ma","type":"quantitative","scale":{"domain":[0,23,66,143.1,201.3,251.9,298.9,359.3,425],"range":[137,189,259,445,622,731,806,898,1010],"zero":false,"nice":false},"axis":null}}},
  {"data":{"values":[{"i":1,"div":391.1,"Ma":425},{"i":2,"div":374.2,"Ma":419.0},{"i":3,"div":335.2,"Ma":432.2},{"i":4,"div":305.8,"Ma":425}]},"mark":{"type":"line","stroke":"#1b8a5a","strokeWidth":1.2},
   "encoding":{"x":{"field":"div","type":"quantitative","scale":{"domain":[0,80,600,640],"range":[229.7,125,54.3,27.7],"zero":false,"nice":false},"axis":null},"y":{"field":"Ma","type":"quantitative","scale":{"domain":[0,23,66,143.1,201.3,251.9,298.9,359.3,425],"range":[137,189,259,445,622,731,806,898,1010],"zero":false,"nice":false},"axis":null},"order":{"field":"i","type":"quantitative"}}},
  {"data":{"name":"conifers"},"mark":{"type":"line","stroke":"#231f20","strokeWidth":1.3},
   "encoding":{"x":{"field":"rate","type":"quantitative","scale":{"domain":[0,0.02],"range":[23.7,228.7],"nice":false},"axis":{"orient":"top","offset":-133,"values":[0,0.01,0.02],"format":"~g","tickSize":10,"labelPadding":2,"title":null}},"y":{"field":"Ma","type":"quantitative","scale":{"domain":[0,23,66,143.1,201.3,251.9,298.9,359.3,425],"range":[137,189,259,445,622,731,806,898,1010],"zero":false,"nice":false},"axis":null},"order":{"field":"Ma","type":"quantitative"}}},
  {"data":{"values":[{"rate":0.0025,"rate2":0.00471,"Ma":3.4}]},"mark":{"type":"rule","stroke":"#ffffff","strokeWidth":2},
   "encoding":{"x":{"field":"rate","type":"quantitative","scale":{"domain":[0,0.02],"range":[23.7,228.7],"nice":false},"axis":null},"x2":{"field":"rate2"},"y":{"field":"Ma","type":"quantitative","scale":{"domain":[0,23,66,143.1,201.3,251.9,298.9,359.3,425],"range":[137,189,259,445,622,731,806,898,1010],"zero":false,"nice":false},"axis":null}}},
  {"data":{"values":[{"rate":0.00225,"Ma":3.4}]},"mark":{"type":"point","shape":"triangle-left","filled":true,"color":"#ffffff","size":70,"opacity":1},
   "encoding":{"x":{"field":"rate","type":"quantitative","scale":{"domain":[0,0.02],"range":[23.7,228.7],"nice":false},"axis":null},"y":{"field":"Ma","type":"quantitative","scale":{"domain":[0,23,66,143.1,201.3,251.9,298.9,359.3,425],"range":[137,189,259,445,622,731,806,898,1010],"zero":false,"nice":false},"axis":null}}},
  {"data":{"values":[{"t":"620","rate":0.0056,"Ma":5.9}]},"mark":{"type":"text","align":"left","baseline":"middle","fontSize":17,"color":"#ffffff"},
   "encoding":{"x":{"field":"rate","type":"quantitative","scale":{"domain":[0,0.02],"range":[23.7,228.7],"nice":false},"axis":null},"y":{"field":"Ma","type":"quantitative","scale":{"domain":[0,23,66,143.1,201.3,251.9,298.9,359.3,425],"range":[137,189,259,445,622,731,806,898,1010],"zero":false,"nice":false},"axis":null},"text":{"field":"t"}}},
  {"data":{"name":"taxa"},"mark":{"type":"area","orient":"horizontal","color":"#005c2e"},
   "encoding":{"x":{"field":"left","type":"quantitative","stack":null,"scale":{"domain":[0,60],"range":[251,851],"zero":false,"nice":false},"axis":null},"x2":{"field":"right"},"y":{"field":"Ma","type":"quantitative","scale":{"domain":[0,23,66,143.1,201.3,251.9,298.9,359.3,425],"range":[137,189,259,445,622,731,806,898,1010],"zero":false,"nice":false},"axis":null},"detail":{"field":"taxon"}}},
  {"data":{"name":"angio"},"mark":{"type":"area","orient":"horizontal","color":"#1e9440"},
   "encoding":{"x":{"field":"left","type":"quantitative","stack":null,"scale":{"domain":[0,60],"range":[251,851],"zero":false,"nice":false},"axis":null},"x2":{"field":"right"},"y":{"field":"Ma","type":"quantitative","scale":{"domain":[0,23,66,143.1,201.3,251.9,298.9,359.3,425],"range":[137,189,259,445,622,731,806,898,1010],"zero":false,"nice":false},"axis":null}}},
  {"data":{"name":"ranges"},"mark":{"type":"rule","stroke":"#1d8a4b","strokeWidth":1.6,"strokeDash":[2,2]},
   "encoding":{"x":{"field":"u","type":"quantitative","scale":{"domain":[0,60],"range":[251,851],"zero":false,"nice":false},"axis":null},"y":{"field":"Ma","type":"quantitative","scale":{"domain":[0,23,66,143.1,201.3,251.9,298.9,359.3,425],"range":[137,189,259,445,622,731,806,898,1010],"zero":false,"nice":false},"axis":null},"y2":{"field":"Ma2"}}},
  {"data":{"name":"taxlabels"},"mark":{"type":"text","angle":270,"align":"left","baseline":"middle","fontSize":18.5},
   "encoding":{"x":{"field":"u","type":"quantitative","scale":{"domain":[0,60],"range":[251,851],"zero":false,"nice":false},"axis":null},"y":{"field":"Ma","type":"quantitative","scale":{"domain":[0,23,66,143.1,201.3,251.9,298.9,359.3,425],"range":[137,189,259,445,622,731,806,898,1010],"zero":false,"nice":false},"axis":null},"text":{"field":"t"}}},
  {"data":{"values":[{"t":"Angiosperms","u":30.6,"Ma":39.0}]},"mark":{"type":"text","angle":270,"align":"center","baseline":"middle","fontSize":19,"color":"#ffffff"},
   "encoding":{"x":{"field":"u","type":"quantitative","scale":{"domain":[0,60],"range":[251,851],"zero":false,"nice":false},"axis":null},"y":{"field":"Ma","type":"quantitative","scale":{"domain":[0,23,66,143.1,201.3,251.9,298.9,359.3,425],"range":[137,189,259,445,622,731,806,898,1010],"zero":false,"nice":false},"axis":null},"text":{"field":"t"}}},
  {"data":{"name":"adaptations"},"mark":{"type":"rect","cornerRadius":14,"stroke":"#ffffff","strokeWidth":2,"fill":{"gradient":"linear","x1":0,"y1":0,"x2":0,"y2":1,"stops":[{"offset":0,"color":"#f1f8e6"},{"offset":0.5,"color":"#8dc63f"},{"offset":1,"color":"#fbfdf7"}]}},
   "encoding":{"x":{"field":"u","type":"quantitative","scale":{"domain":[0,60],"range":[251,851],"zero":false,"nice":false},"axis":null},"x2":{"field":"u2"},"y":{"field":"Ma","type":"quantitative","scale":{"domain":[0,23,66,143.1,201.3,251.9,298.9,359.3,425],"range":[137,189,259,445,622,731,806,898,1010],"zero":false,"nice":false},"axis":null},"y2":{"field":"Ma2"}}},
  {"data":{"name":"adaptations"},"mark":{"type":"text","align":"center","baseline":"middle","fontSize":14.2,"fontWeight":"bold","lineBreak":"\n","lineHeight":17.5},
   "encoding":{"x":{"field":"tu","type":"quantitative","scale":{"domain":[0,60],"range":[251,851],"zero":false,"nice":false},"axis":null},"y":{"field":"tMa","type":"quantitative","scale":{"domain":[0,23,66,143.1,201.3,251.9,298.9,359.3,425],"range":[137,189,259,445,622,731,806,898,1010],"zero":false,"nice":false},"axis":null},"text":{"field":"text"}}},
  {"data":{"values":[{"t":"LAND PLANTS","u":17.3,"Ma":-52.6}]},"mark":{"type":"text","align":"center","baseline":"middle","fontSize":19},
   "encoding":{"x":{"field":"u","type":"quantitative","scale":{"domain":[0,60],"range":[251,851],"zero":false,"nice":false},"axis":null},"y":{"field":"Ma","type":"quantitative","scale":{"domain":[0,23,66,143.1,201.3,251.9,298.9,359.3,425],"range":[137,189,259,445,622,731,806,898,1010],"zero":false,"nice":false},"axis":null},"text":{"field":"t"}}},
  {"data":{"values":[{"t":"Extinction rates conifers","u":-12.8,"Ma":-23.0},{"t":"Changes in selected tree taxa","u":17.2,"Ma":-23.0},{"t":"Major environmental and\nevolutionary adaptions","u":47.5,"Ma":-23.0}]},"mark":{"type":"text","align":"center","baseline":"middle","fontSize":16,"lineBreak":"\n","lineHeight":19},
   "encoding":{"x":{"field":"u","type":"quantitative","scale":{"domain":[0,60],"range":[251,851],"zero":false,"nice":false},"axis":null},"y":{"field":"Ma","type":"quantitative","scale":{"domain":[0,23,66,143.1,201.3,251.9,298.9,359.3,425],"range":[137,189,259,445,622,731,806,898,1010],"zero":false,"nice":false},"axis":null},"text":{"field":"t"}}}
 ]
}
]
}
